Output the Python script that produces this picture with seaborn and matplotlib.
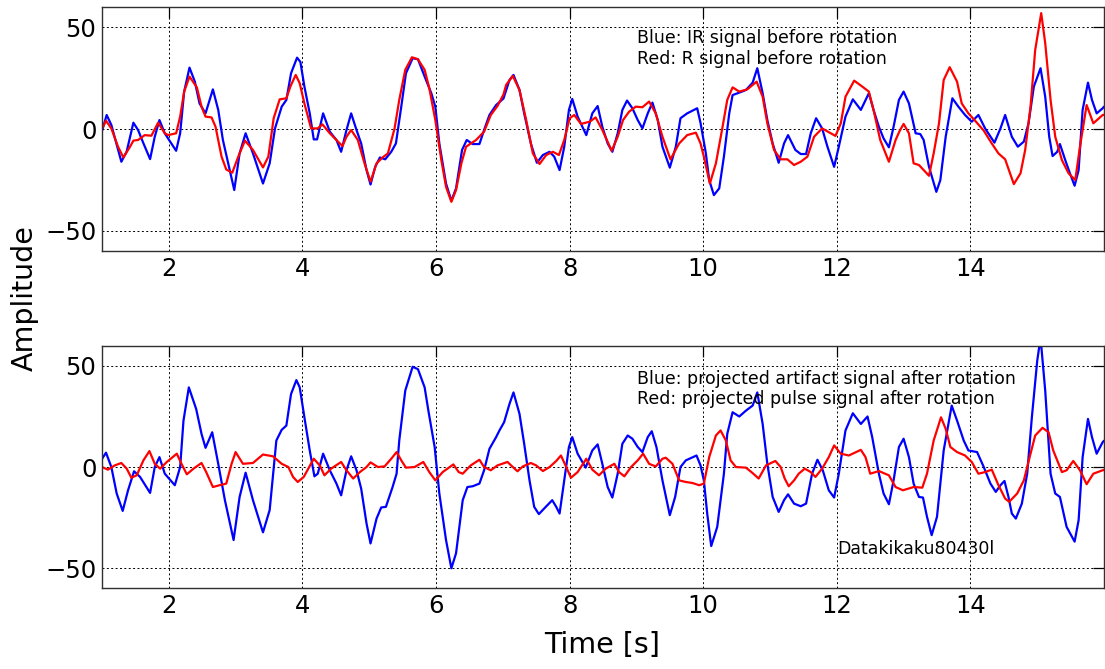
import matplotlib
matplotlib.use("Agg")
import matplotlib.pyplot as plt
import seaborn as sns

# ---- IR / R signals before rotation (time in s, amplitude) ----
ir_t = [1.00, 1.07, 1.14, 1.29, 1.37, 1.47, 1.54, 1.62, 1.72, 1.79, 1.86, 1.94, 2.02, 2.11, 2.17,
        2.23, 2.31, 2.39, 2.46, 2.55, 2.66, 2.74, 2.81, 2.89, 2.98, 3.06, 3.15, 3.26, 3.41, 3.51,
        3.59, 3.69, 3.76, 3.83, 3.92, 3.97, 4.03, 4.11, 4.17, 4.22, 4.31, 4.41, 4.51, 4.58, 4.66,
        4.73, 4.81, 4.88, 4.96, 5.02, 5.09, 5.16, 5.24, 5.33, 5.40, 5.48, 5.55, 5.65, 5.73, 5.83,
        5.93, 5.99, 6.05, 6.15, 6.23, 6.30, 6.39, 6.46, 6.55, 6.65, 6.72, 6.80, 6.90, 7.01, 7.10,
        7.16, 7.25, 7.32, 7.42, 7.51, 7.60, 7.70, 7.77, 7.85, 7.92, 7.99, 8.04, 8.12, 8.25, 8.34,
        8.42, 8.49, 8.57, 8.64, 8.72, 8.79, 8.86, 8.94, 9.02, 9.09, 9.17, 9.24, 9.32, 9.39, 9.50,
        9.59, 9.66, 9.76, 9.91, 9.96, 10.04, 10.09, 10.16, 10.24, 10.31, 10.39, 10.44, 10.54, 10.64,
        10.74, 10.81, 10.89, 10.96, 11.04, 11.13, 11.21, 11.27, 11.38, 11.46, 11.54, 11.61, 11.69,
        11.78, 11.86, 11.96, 12.03, 12.13, 12.24, 12.36, 12.48, 12.55, 12.63, 12.70, 12.78, 12.85,
        12.93, 13.00, 13.08, 13.18, 13.25, 13.30, 13.38, 13.49, 13.55, 13.63, 13.73, 13.82, 13.92,
        14.02, 14.12, 14.22, 14.36, 14.45, 14.52, 14.62, 14.71, 14.80, 14.87, 14.95, 15.05, 15.12,
        15.18, 15.23, 15.30, 15.34, 15.42, 15.49, 15.56, 15.62, 15.68, 15.76, 15.82, 15.89, 15.98,
        16.00]
ir_v = [-1.0, 6.9, 2.0, -16.1, -11.0, 3.1, -0.5, -7.0, -14.8, -3.8, 4.4, -2.1, -6.2, -10.7, -2.1,
        18.4, 30.2, 23.3, 12.6, 7.7, 19.5, 9.4, -5.4, -16.9, -30.0, -12.0, -2.1, -12.0, -26.8, -16.9,
        0.3, 11.0, 14.3, 27.4, 35.1, 33.0, 20.9, 7.7, -5.1, -5.1, 7.7, -1.3, -5.4, -11.2, -0.5,
        7.7, -0.5, -7.1, -20.2, -27.3, -18.6, -14.0, -14.9, -11.2, -7.1, 11.0, 27.4, 34.8, 34.3, 25.8,
        17.6, 11.0, -7.1, -26.8, -35.3, -29.2, -10.3, -5.4, -7.4, -7.4, -0.5, 6.9, 11.8, 15.0, 24.1,
        26.6, 19.2, 7.7, -7.1, -16.6, -12.8, -11.2, -13.6, -20.2, -8.7, 9.4, 14.8, 6.1, -3.0, 7.7,
        11.3, 1.1, -7.1, -11.2, -2.1, 9.4, 14.0, 10.2, 4.4, 0.3, 7.7, 13.0, 4.4, -8.7, -19.0,
        -8.7, 5.3, 7.7, 10.2, 3.0, -12.0, -25.1, -32.5, -29.2, -13.6, 7.7, 16.7, 17.9, 19.2,
        22.8, 29.9, 17.6, 4.4, -7.1, -16.6, -7.1, -3.0, -10.3, -12.3, -12.3, -2.1, 5.3,
        0.3, -8.7, -18.6, -8.7, 6.1, 14.6, 9.4, 17.6, 9.4, 1.1, -4.6, -9.0, 1.1,
        14.3, 18.4, 12.6, -2.1, -2.5, -5.4, -18.6, -30.9, -25.1, -3.8, 15.1, 11.0, 6.9,
        3.6, 6.9, 0.3, -6.7, 0.3, 6.9, -3.8, -8.7, -6.2, 2.8, 20.9, 29.9, 15.9,
        -3.8, -13.3, -11.2, -7.4, -15.3, -21.8, -27.9, -20.2, 9.4, 22.8, 14.3, 7.7, 10.2,
        11.0]

r_t = [1.00, 1.06, 1.14, 1.24, 1.32, 1.42, 1.47, 1.54, 1.64, 1.74, 1.84, 1.94, 1.99, 2.11, 2.17,
       2.23, 2.31, 2.42, 2.49, 2.55, 2.64, 2.70, 2.79, 2.86, 2.95, 3.04, 3.14, 3.26, 3.41, 3.49,
       3.57, 3.66, 3.76, 3.82, 3.90, 3.96, 4.03, 4.13, 4.23, 4.30, 4.41, 4.51, 4.60, 4.66, 4.73,
       4.83, 4.93, 5.02, 5.11, 5.20, 5.28, 5.38, 5.45, 5.54, 5.64, 5.73, 5.83, 5.90, 5.99, 6.08,
       6.15, 6.23, 6.30, 6.38, 6.45, 6.60, 6.72, 6.82, 6.92, 7.01, 7.05, 7.15, 7.25, 7.35, 7.45,
       7.55, 7.65, 7.75, 7.84, 7.92, 8.00, 8.07, 8.17, 8.30, 8.39, 8.49, 8.63, 8.72, 8.80, 8.89,
       8.99, 9.09, 9.19, 9.29, 9.39, 9.51, 9.64, 9.76, 9.89, 9.96, 10.01, 10.10, 10.19, 10.29,
       10.36, 10.44, 10.54, 10.66, 10.80, 10.89, 10.96, 11.06, 11.16, 11.26, 11.36, 11.46, 11.56,
       11.66, 11.78, 11.91, 11.98, 12.06, 12.13, 12.26, 12.38, 12.48, 12.55, 12.65, 12.78, 12.88,
       12.94, 13.00, 13.08, 13.15, 13.23, 13.38, 13.45, 13.53, 13.60, 13.69, 13.80, 13.87, 13.97,
       14.07, 14.20, 14.32, 14.42, 14.52, 14.65, 14.75, 14.82, 14.90, 14.97, 15.06, 15.12, 15.20,
       15.27, 15.37, 15.47, 15.57, 15.64, 15.74, 15.84, 15.98, 16.00]
r_v = [0.0, 4.1, 0.3, -8.7, -14.0, -8.7, -5.7, -5.4, -3.0, -3.3, 3.1, -2.1, -3.0, -2.1, 6.1,
       18.4, 25.8, 20.5, 11.0, 6.1, 5.7, 1.1, -13.6, -19.9, -21.5, -13.6, -5.7, -10.3, -18.9, -13.6,
       5.3, 14.6, 15.1, 20.9, 26.6, 22.5, 12.6, 0.3, 0.3, 2.3, -2.1, -5.4, -8.4, -3.8, -0.5,
       -5.4, -16.9, -25.9, -16.9, -14.0, -12.0, 0.3, 14.3, 29.1, 35.3, 34.3, 29.1, 20.0, 4.4, -15.3,
       -28.4, -35.8, -30.0, -16.9, -8.7, -5.4, -1.3, 6.9, 11.3, 17.0, 21.7, 26.1, 19.2, 4.4, -12.0,
       -17.2, -12.8, -11.2, -12.8, -5.4, 5.3, 6.9, 2.5, 3.6, 5.7, -0.5, -10.7, -3.8, 4.4, 8.5,
       11.0, 10.7, 13.5, 7.7, -3.8, -14.9, -7.1, -3.0, -1.8, -7.1, -13.6, -26.8, -16.9, 1.1,
       14.3, 20.5, 18.4, 19.5, 23.3, 15.9, 2.8, -10.3, -14.9, -14.9, -17.7, -16.1, -13.6,
       -3.8, 0.3, -2.1, -3.4, 2.8, 15.9, 23.8, 20.9, 18.4, 9.4, -5.4, -16.1, -5.4,
       -1.0, 2.5, -2.1, -16.9, -17.7, -23.0, -12.0, 2.8, 24.1, 30.4, 23.3, 12.6, 7.7,
       4.1, -0.8, -7.1, -12.0, -14.9, -27.1, -21.8, -10.3, 11.0, 38.9, 57.0, 42.2, 14.3,
       -3.8, -15.3, -21.8, -25.1, -8.7, 11.8, 2.8, 6.9, 7.0]

# ---- projected artifact / pulse signals after rotation ----
art_t = [1.00, 1.06, 1.14, 1.22, 1.31, 1.39, 1.48, 1.57, 1.72, 1.79, 1.86, 1.94, 2.09, 2.17, 2.22,
         2.30, 2.41, 2.49, 2.55, 2.65, 2.74, 2.84, 2.97, 3.06, 3.15, 3.26, 3.41, 3.51, 3.61, 3.69,
         3.76, 3.83, 3.91, 3.96, 4.03, 4.11, 4.18, 4.23, 4.31, 4.41, 4.51, 4.58, 4.66, 4.73, 4.81,
         4.88, 4.96, 5.02, 5.11, 5.18, 5.25, 5.35, 5.41, 5.45, 5.54, 5.65, 5.73, 5.83, 5.89, 5.98,
         6.05, 6.15, 6.23, 6.30, 6.40, 6.47, 6.55, 6.65, 6.72, 6.80, 6.90, 6.95, 7.02, 7.10, 7.16,
         7.25, 7.32, 7.40, 7.47, 7.54, 7.62, 7.74, 7.80, 7.85, 7.92, 7.99, 8.04, 8.12, 8.24, 8.34,
         8.42, 8.49, 8.57, 8.64, 8.72, 8.79, 8.87, 8.94, 9.02, 9.09, 9.17, 9.23, 9.30, 9.39, 9.50,
         9.58, 9.66, 9.74, 9.90, 9.96, 10.01, 10.06, 10.12, 10.21, 10.31, 10.36, 10.44, 10.54, 10.64,
         10.74, 10.81, 10.89, 10.96, 11.04, 11.13, 11.21, 11.27, 11.36, 11.46, 11.54, 11.63, 11.71,
         11.79, 11.88, 11.96, 12.03, 12.13, 12.24, 12.36, 12.46, 12.53, 12.63, 12.70, 12.78, 12.85,
         12.93, 13.00, 13.08, 13.15, 13.23, 13.29, 13.35, 13.42, 13.50, 13.60, 13.72, 13.80, 13.90,
         13.97, 14.10, 14.20, 14.30, 14.38, 14.45, 14.51, 14.57, 14.62, 14.68, 14.77, 14.85, 14.92,
         15.00, 15.05, 15.12, 15.20, 15.27, 15.34, 15.44, 15.56, 15.62, 15.68, 15.76, 15.82, 15.89,
         15.98, 16.00]
art_v = [4.0, 7.1, 0.0, -13.1, -21.7, -11.5, -2.1, -4.9, -12.8, 0.0, 4.9, -3.3, -9.0, 0.0, 23.0,
         39.4, 28.7, 16.4, 9.5, 17.2, 1.6, -16.4, -36.1, -14.8, -2.8, -16.4, -32.3, -21.3, 13.1, 18.4,
         20.5, 36.1, 43.0, 39.4, 24.6, 8.2, -4.6, -3.3, 6.6, -1.6, -8.2, -14.0, -1.6, 5.3, -1.6,
         -10.7, -27.9, -37.8, -25.5, -20.0, -19.7, -9.9, -3.3, 13.1, 37.8, 49.6, 48.4, 39.4, 27.1, 9.9,
         -13.1, -36.1, -50.1, -42.7, -16.4, -9.9, -9.5, -8.2, -1.6, 9.0, 14.8, 18.1, 22.2, 31.2, 36.9,
         26.3, 11.5, -6.6, -19.7, -23.3, -20.5, -16.4, -19.7, -23.0, -6.6, 9.9, 14.8, 6.6, -0.3, 8.2,
         11.2, 1.6, -9.9, -15.1, -3.3, 11.5, 15.6, 14.0, 9.9, 7.4, 14.8, 17.7, 9.9, -6.6, -23.8,
         -14.8, 0.0, 3.3, 5.7, 0.8, -6.6, -23.0, -39.1, -29.6, -3.3, 16.4, 27.1, 25.0, 27.9,
         30.4, 36.9, 21.3, 1.6, -14.8, -22.2, -16.4, -13.5, -18.1, -19.4, -18.1, -3.3, 3.6,
         -1.6, -11.5, -15.1, -3.3, 18.1, 26.6, 21.3, 25.0, 14.8, -3.3, -13.1, -18.4, -6.6,
         9.9, 14.0, 4.9, -8.2, -14.8, -15.1, -24.6, -33.7, -24.6, 8.2, 30.4, 23.0, 13.1,
         8.2, 7.4, 0.0, -8.2, -12.3, -9.0, -6.9, -14.8, -23.0, -25.5, -18.1, -3.3, 24.6,
         52.5, 64.0, 37.8, -3.3, -13.1, -14.8, -29.6, -36.9, -26.3, 4.9, 23.8, 14.8, 6.6,
         12.3, 13.0]

pulse_t = [1.00, 1.09, 1.19, 1.29, 1.37, 1.44, 1.52, 1.62, 1.71, 1.79, 1.87, 1.97, 2.12, 2.19, 2.27,
           2.37, 2.49, 2.56, 2.66, 2.76, 2.86, 2.94, 3.00, 3.11, 3.26, 3.41, 3.56, 3.69, 3.79, 3.86,
           3.93, 4.02, 4.06, 4.17, 4.26, 4.33, 4.43, 4.58, 4.66, 4.76, 4.86, 4.96, 5.02, 5.13, 5.23,
           5.33, 5.41, 5.48, 5.55, 5.68, 5.81, 5.90, 5.99, 6.10, 6.26, 6.34, 6.40, 6.52, 6.65, 6.72,
           6.82, 6.92, 7.07, 7.15, 7.22, 7.30, 7.42, 7.50, 7.60, 7.70, 7.80, 7.87, 7.95, 8.02, 8.12,
           8.25, 8.34, 8.44, 8.54, 8.67, 8.74, 8.82, 8.92, 9.02, 9.10, 9.19, 9.29, 9.39, 9.44, 9.54,
           9.64, 9.74, 9.84, 9.94, 10.01, 10.09, 10.19, 10.26, 10.34, 10.41, 10.49, 10.64, 10.74,
           10.83, 10.94, 11.08, 11.16, 11.22, 11.28, 11.36, 11.43, 11.52, 11.61, 11.68, 11.78, 11.88,
           11.96, 12.06, 12.18, 12.36, 12.43, 12.50, 12.63, 12.78, 12.88, 12.99, 13.15, 13.28, 13.35,
           13.45, 13.56, 13.63, 13.70, 13.80, 13.92, 14.02, 14.12, 14.22, 14.32, 14.42, 14.52, 14.58,
           14.70, 14.80, 14.90, 14.97, 15.08, 15.17, 15.24, 15.37, 15.44, 15.54, 15.64, 15.74, 15.84,
           15.98, 16.00]
pulse_v = [0.0, -1.3, 0.8, 2.0, -0.8, -5.3, -4.1, 3.3, 7.9, 1.6, -0.8, 2.5, 6.6, 1.6, -3.6,
           -0.8, 2.0, -2.5, -9.9, -9.0, -8.2, 1.6, 7.4, 1.6, 2.0, 6.2, 5.3, 1.6, 0.0, -4.9,
           -7.4, -4.9, -2.5, 4.1, 0.8, -4.1, -0.8, 2.5, -1.6, -5.7, -2.5, 0.0, 2.3, 0.0, 0.3,
           4.1, 7.4, 3.3, -0.3, 0.0, 2.5, -2.5, -6.6, -2.5, 1.3, -2.5, -3.3, 0.8, 3.6, 0.0,
           -1.6, 0.8, 2.5, 0.0, -2.1, 0.3, 2.0, 0.8, -2.0, 0.0, 3.0, 5.7, 0.0, -5.3, -2.5,
           4.1, -1.3, -4.1, -0.8, 1.6, -2.5, -4.6, 0.0, 3.3, 6.6, 1.6, 0.3, 4.1, 4.6, 1.6,
           -6.6, -7.4, -7.9, -9.0, -8.2, 4.9, 15.6, 18.1, 13.1, 3.3, 0.0, -0.3, -3.0,
           -5.7, 0.8, 3.0, 0.0, -5.7, -9.5, -6.6, -3.3, -0.8, -2.5, -4.9, -0.8, 4.9,
           10.7, 6.6, 5.7, 8.5, 4.9, -3.3, -2.0, -4.1, -9.9, -11.5, -9.9, -10.2, -3.3,
           13.1, 24.6, 18.9, 9.9, 7.4, 5.7, 2.5, -3.3, -2.5, -1.3, -9.0, -15.6, -17.2,
           -13.1, -6.6, 6.6, 15.6, 19.4, 17.2, 8.2, -2.5, -1.6, 3.0, -1.6, -8.5, -3.3,
           -1.6, -1.5]

x_ticks = [2, 4, 6, 8, 10, 12, 14]
y_ticks = [-50, 0, 50]

top_notes = ["Blue: IR signal before rotation", "Red: R signal before rotation"]
bottom_notes = ["Blue: projected artifact signal after rotation",
                "Red: projected pulse signal after rotation"]
data_id = "Datakikaku80430l"

sns.set_theme(style="white")
plt.rcParams["font.family"] = ["DejaVu Sans"]
plt.rcParams["axes.unicode_minus"] = True

fig = plt.figure(figsize=(11.05, 6.69), dpi=100)
ax_top = fig.add_axes([0.0923, 0.6248, 0.9068, 0.3647])
ax_bot = fig.add_axes([0.0923, 0.1206, 0.9068, 0.3626])


def style_axes(ax):
    ax.set_xlim(1, 16)
    ax.set_ylim(-60, 60)
    ax.set_xticks(x_ticks)
    ax.set_yticks(y_ticks)
    ax.tick_params(direction="in", length=8, width=0.9, color="black",
                   top=True, right=True, labelsize=17.5, pad=4,
                   labelcolor="black")
    ax.grid(True, linestyle=(0, (2, 2.5)), color="black", linewidth=0.7)
    ax.set_axisbelow(True)
    for sp in ax.spines.values():
        sp.set_color("#303030")
        sp.set_linewidth(1.0)
    ax.set_xlabel("")
    ax.set_ylabel("")


line_kw = dict(linewidth=1.6, estimator=None, sort=False,
               solid_joinstyle="round", solid_capstyle="round")

for ax, (bt, bv), (rt, rv) in [
    (ax_top, (ir_t, ir_v), (r_t, r_v)),
    (ax_bot, (art_t, art_v), (pulse_t, pulse_v)),
]:
    sns.lineplot(x=bt, y=bv, ax=ax, color="#0000ff", **line_kw)
    sns.lineplot(x=rt, y=rv, ax=ax, color="#ff0000", **line_kw)
    style_axes(ax)

note_kw = dict(fontsize=12.5, color="black", ha="left", va="center")
ax_top.text(9.01, 44.8, top_notes[0], **note_kw)
ax_top.text(9.01, 34.5, top_notes[1], **note_kw)
ax_bot.text(9.01, 43.7, bottom_notes[0], **note_kw)
ax_bot.text(9.01, 33.8, bottom_notes[1], **note_kw)
ax_bot.text(12.0, -40.5, data_id, **note_kw)

fig.text(0.0226, 0.554, "Amplitude", rotation=90, ha="center", va="center",
         fontsize=20.5, color="black")
fig.text(0.545, 0.036, "Time [s]", ha="center", va="center",
         fontsize=20.5, color="black")

fig.savefig("out.png", dpi=100)
